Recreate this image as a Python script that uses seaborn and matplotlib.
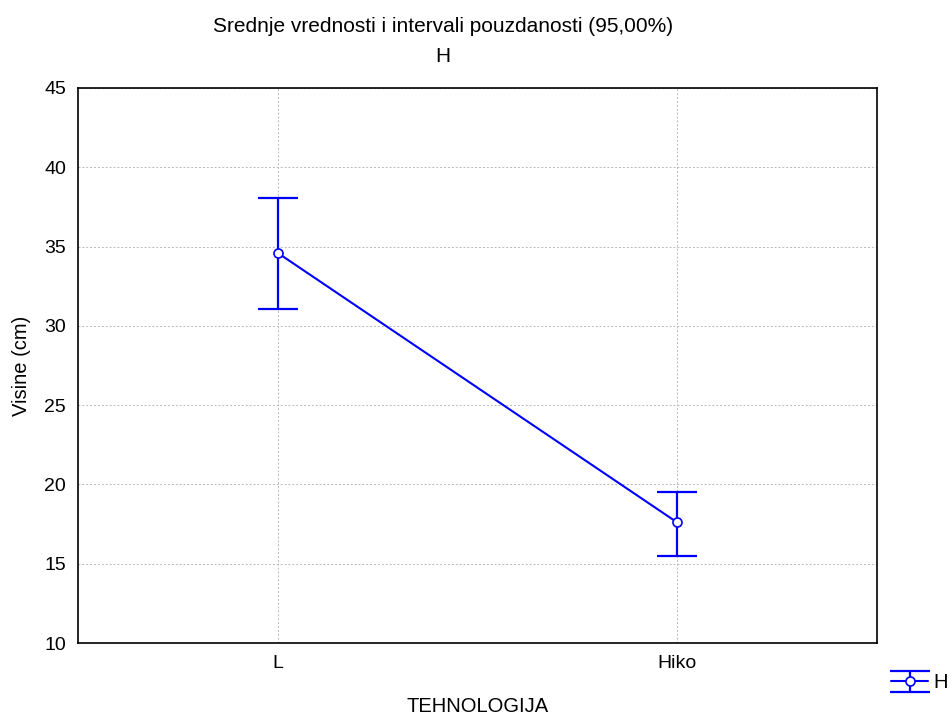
import matplotlib
matplotlib.use("Agg")
import matplotlib.pyplot as plt
import seaborn as sns
import pandas as pd
from matplotlib.legend_handler import HandlerTuple

categories = ["L", "Hiko"]
means = [34.6, 17.6]
ci_low = [31.05, 15.5]
ci_high = [38.05, 19.55]

sns.set_style("white")
plt.rcParams['font.family'] = ['Liberation Sans', 'DejaVu Sans']
plt.rcParams['text.color'] = 'black'
plt.rcParams['axes.labelcolor'] = 'black'

df = pd.DataFrame({"TEHNOLOGIJA": categories, "H": means})
df["x"] = range(len(categories))

fig = plt.figure(figsize=(9.53, 7.14), dpi=100)
ax = fig.add_axes([78/953, 1-643/714, 799/953, 555/714])

blue = "#0000FF"
fs = 14
sns.lineplot(data=df, x="x", y="H", ax=ax, color=blue, linewidth=1.5,
             marker="o", markersize=6.5, markerfacecolor="white",
             markeredgecolor=blue, markeredgewidth=1.2, zorder=4)
yerr = [[m - l for m, l in zip(means, ci_low)], [h - m for m, h in zip(means, ci_high)]]
eb = ax.errorbar(df["x"], means, yerr=yerr, fmt="none", ecolor=blue,
                 elinewidth=1.6, capsize=14.5, capthick=1.6, zorder=3)

ax.set_xlim(-0.5, 1.5)
ax.set_ylim(10, 45)
ax.set_xticks(df["x"])
ax.set_xticklabels(categories)
ax.set_yticks(range(10, 46, 5))
ax.grid(True, color="#b8b8b8", linestyle=(0, (2, 2)), linewidth=0.7)
ax.tick_params(direction="in", length=4, width=1, labelsize=fs, pad=8.5,
               colors="black", labelcolor="black")
for s in ax.spines.values():
    s.set_color("black")
    s.set_linewidth(1.2)
ax.set_xlabel("TEHNOLOGIJA", fontsize=fs + 0.5, color="black")
ax.xaxis.label.set_va("center")
ax.xaxis.set_label_coords(0.5, (643 - 706) / 555)
ax.set_ylabel("Visine (cm)", fontsize=fs + 0.5, color="black")
ax.yaxis.label.set_va("center")
ax.yaxis.set_label_coords((21 - 78) / 799, 0.5)

fig.text(443/953, 1-27/714, "Srednje vrednosti i intervali pouzdanosti (95,00%)",
         ha="center", va="center", fontsize=fs + 1, color="black")
fig.text(443/953, 1-57/714, "H", ha="center", va="center", fontsize=fs + 1, color="black")

line = ax.lines[0]
leg = fig.legend([(eb, line)], ["H"], handler_map={tuple: HandlerTuple(ndivide=1)},
                 loc="center left", bbox_to_anchor=(891/953, 1-683/714), frameon=False,
                 fontsize=fs + 0.5, handlelength=1.85, handletextpad=0.25, borderpad=0,
                 borderaxespad=0)
for t in leg.get_texts():
    t.set_color("black")

fig.savefig("out.png", dpi=100)
